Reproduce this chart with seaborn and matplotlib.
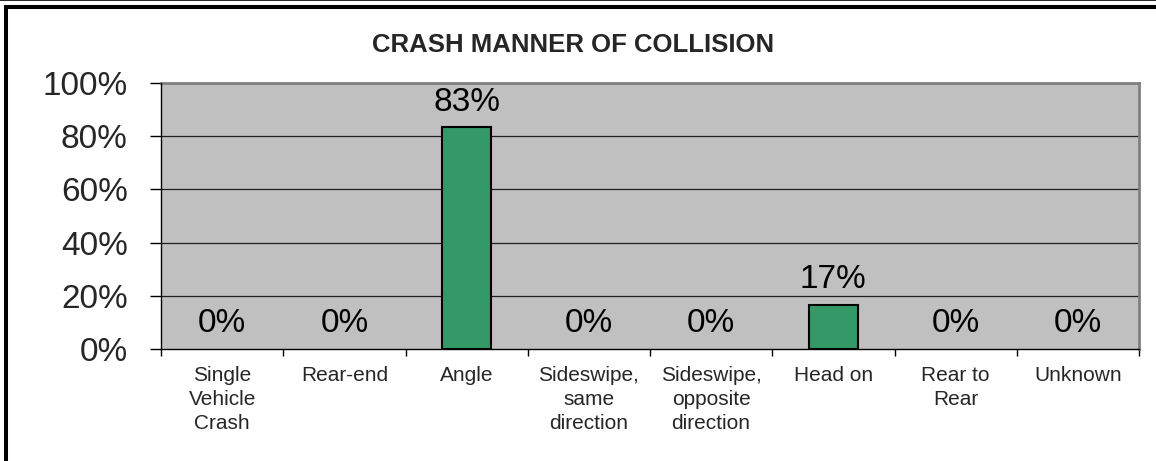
import matplotlib
matplotlib.use('Agg')
import matplotlib.pyplot as plt
import seaborn as sns
import numpy as np
import pandas as pd
from matplotlib.patches import Rectangle
from matplotlib.lines import Line2D
from matplotlib.ticker import FuncFormatter, FixedLocator

# data
categories = ['Single\nVehicle\nCrash', 'Rear-end', 'Angle', 'Sideswipe,\nsame\ndirection',
              'Sideswipe,\nopposite\ndirection', 'Head on', 'Rear to\nRear', 'Unknown']
shares = [0.0, 0.0, 0.833, 0.0, 0.0, 0.167, 0.0, 0.0]
yticks = [0, 0.2, 0.4, 0.6, 0.8, 1.0]

df = pd.DataFrame({'manner': categories, 'share': shares})

sns.set_style('white')
plt.rcParams['font.family'] = ['Liberation Sans', 'DejaVu Sans']

fig = plt.figure(figsize=(11.56, 4.61), dpi=100)
ax = fig.add_axes([161/1156, 1 - 349/461, (1139-161)/1156, (349-83)/461])
ax.set_facecolor('#C0C0C0')

sns.barplot(data=df, x='manner', y='share', color='#339966', saturation=1,
            width=0.4, edgecolor='black', linewidth=1.5, ax=ax, zorder=3)

# empty bars should not leave an outline on the axis
for bar, v in zip(ax.patches, shares):
    if v == 0:
        bar.set_linewidth(0)

ax.set_ylim(0, 1.0)
ax.set_xlim(-0.5, len(categories) - 0.5)
ax.set_xlabel('')
ax.set_ylabel('')

# gridlines
for v in yticks[1:-1]:
    ax.axhline(v, color='#202020', lw=0.9, zorder=1)

# value labels
for i, v in enumerate(shares):
    ax.annotate('%d%%' % round(v * 100), (i, v), xytext=(0, 12), textcoords='offset points',
                ha='center', va='baseline', fontsize=24, color='black')

# y axis
ax.yaxis.set_major_locator(FixedLocator(yticks))
ax.yaxis.set_major_formatter(FuncFormatter(lambda y, p: '%d%%' % round(y * 100)))
ax.tick_params(axis='y', which='major', direction='out', length=8, width=1,
               color='black', labelsize=24, pad=16, left=True)

# x axis: labels at centers, ticks at boundaries
ax.set_xticks(range(len(categories)))
ax.set_xticklabels(categories, fontsize=15, linespacing=1.36)
ax.tick_params(axis='x', which='major', length=0, pad=12)
ax.xaxis.set_minor_locator(FixedLocator(np.arange(-0.5, len(categories), 1.0)))
ax.tick_params(axis='x', which='minor', direction='out', length=5, width=1,
               color='black', bottom=True)

for s in ['top', 'right']:
    ax.spines[s].set_color('#808080')
    ax.spines[s].set_linewidth(2)
for s in ['left', 'bottom']:
    ax.spines[s].set_color('black')
    ax.spines[s].set_linewidth(1)
    ax.spines[s].set_zorder(4)

fig.text(573/1156, 1 - 52/461, 'CRASH MANNER OF COLLISION', ha='center', va='baseline',
         fontsize=18.5, fontweight='bold')

# chart frame (right/bottom edges cut off)
fig.patches.append(Rectangle((6/1156, -0.1), 1.2, 1 - 7/461 + 0.1, transform=fig.transFigure,
                             fill=False, edgecolor='black', linewidth=2.9))
fig.lines.append(Line2D([0, 1], [1 - 0.5/461, 1 - 0.5/461], transform=fig.transFigure,
                        color='black', linewidth=1.2))

fig.savefig('out.png', dpi=100)
